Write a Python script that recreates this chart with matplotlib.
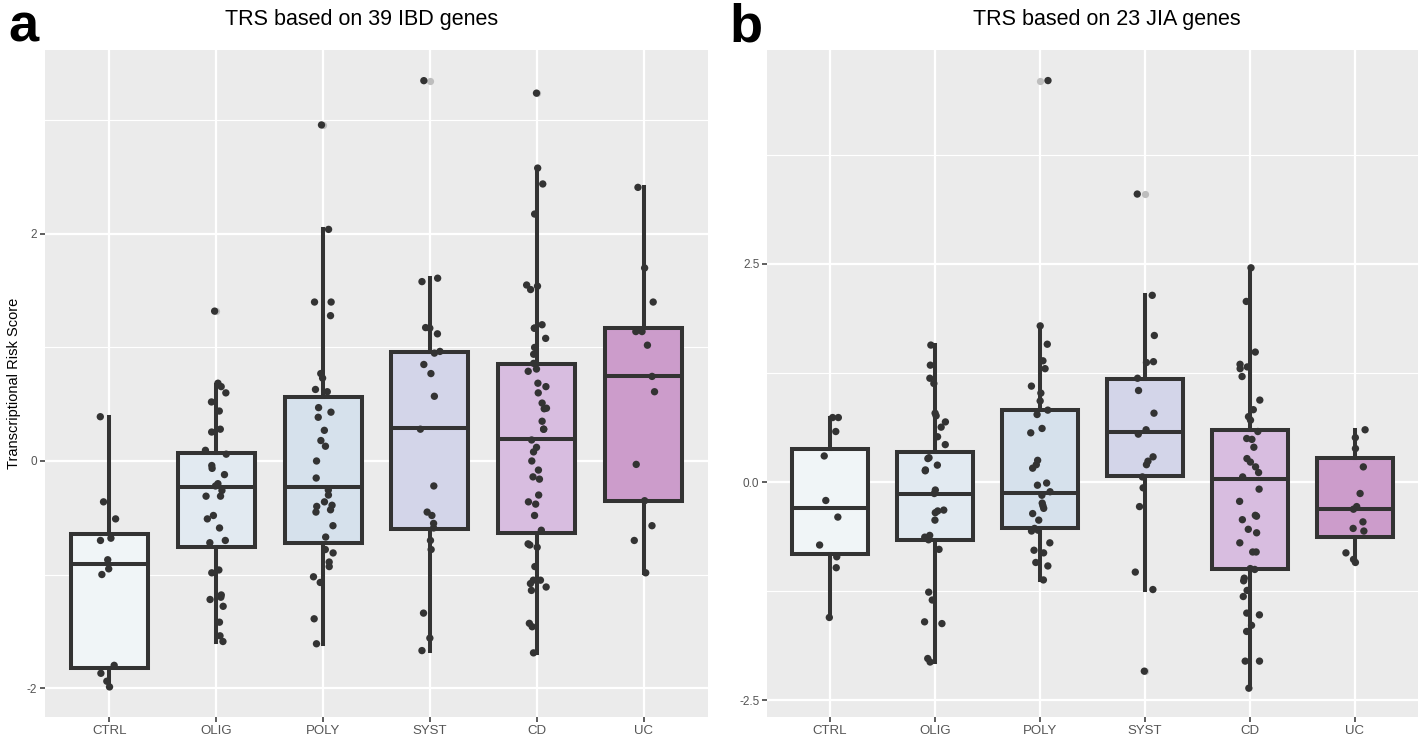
import numpy as np
import matplotlib
matplotlib.use("Agg")
import matplotlib.pyplot as plt
from matplotlib.ticker import FixedLocator

plt.rcParams['font.family'] = ['Liberation Sans', 'DejaVu Sans']

categories = ['CTRL', 'OLIG', 'POLY', 'SYST', 'CD', 'UC']
fill_colors = ['#f0f5f7', '#e2eaf1', '#d6e1ec', '#d3d5e9', '#d8bde0', '#cc9ccb']

# ---- Panel a: TRS based on 39 IBD genes ----
a_q1 = [-1.82, -0.76, -0.72, -0.60, -0.63, -0.35]
a_med = [-0.91, -0.23, -0.23, 0.29, 0.19, 0.745]
a_q3 = [-0.64, 0.07, 0.56, 0.96, 0.85, 1.175]
a_lo = [-1.99, -1.59, -1.61, -1.67, -1.69, -0.985]
a_hi = [0.39, 0.67, 2.04, 1.61, 2.58, 2.41]

a_ctrl = [0.39, -0.36, -0.51, -0.68, -0.70, -0.87, -0.95, -1.00, -1.80, -1.87, -1.94, -1.99]
a_olig = [1.32, 0.685, 0.655, 0.60, 0.52, 0.44, 0.28, 0.255, 0.094, 0.06, -0.04, -0.065,
          -0.12, -0.20, -0.22, -0.26, -0.31, -0.31, -0.48, -0.51, -0.59, -0.70, -0.72,
          -0.96, -0.985, -1.18, -1.20, -1.22, -1.28, -1.42, -1.54, -1.59]
a_poly = [2.96, 2.04, 1.40, 1.40, 1.28, 0.77, 0.73, 0.63, 0.61, 0.47, 0.43, 0.385, 0.27,
          0.18, 0.13, 0.0, -0.15, -0.256, -0.30, -0.36, -0.39, -0.40, -0.43, -0.45, -0.57,
          -0.67, -0.78, -0.81, -0.89, -0.93, -1.02, -1.07, -1.39, -1.61]
a_syst = [3.35, 1.61, 1.58, 1.175, 1.17, 1.12, 0.965, 0.95, 0.85, 0.77, 0.57, 0.28, -0.22,
          -0.45, -0.48, -0.55, -0.59, -0.70, -0.78, -1.34, -1.56, -1.67]
a_cd = [3.24, 2.58, 2.44, 2.175, 1.55, 1.54, 1.51, 1.20, 1.17, 1.17, 1.08, 1.00, 0.94, 0.86,
        0.81, 0.79, 0.685, 0.655, 0.60, 0.51, 0.465, 0.46, 0.35, 0.28, 0.28, 0.185, 0.12,
        0.08, 0.0, -0.08, -0.14, -0.16, -0.30, -0.36, -0.38, -0.48, -0.61, -0.73, -0.74,
        -0.76, -0.93, -1.05, -1.05, -1.08, -1.11, -1.14, -1.43, -1.46, -1.69]
a_uc = [2.41, 1.70, 1.40, 1.14, 1.14, 1.02, 0.745, 0.61, -0.03, -0.35, -0.57, -0.70, -0.985]

# ---- Panel b: TRS based on 23 JIA genes ----
b_q1 = [-0.825, -0.66, -0.53, 0.07, -1.00, -0.63]
b_med = [-0.30, -0.13, -0.12, 0.58, 0.04, -0.31]
b_q3 = [0.375, 0.35, 0.825, 1.18, 0.60, 0.28]
b_lo = [-1.55, -2.06, -1.12, -1.23, -2.36, -0.92]
b_hi = [0.74, 1.57, 1.79, 2.14, 2.455, 0.60]

b_ctrl = [0.74, 0.74, 0.58, 0.30, -0.21, -0.40, -0.72, -0.855, -0.98, -1.55]
b_olig = [1.57, 1.34, 1.19, 1.13, 0.79, 0.76, 0.69, 0.63, 0.52, 0.43, 0.28, 0.27, 0.195,
          0.14, 0.13, -0.09, -0.13, -0.32, -0.33, -0.35, -0.435, -0.61, -0.63, -0.66,
          -0.77, -1.26, -1.35, -1.60, -1.62, -2.02, -2.06]
b_poly = [4.60, 1.79, 1.58, 1.39, 1.30, 1.10, 1.02, 0.93, 0.825, 0.775, 0.615, 0.565, 0.25,
          0.20, 0.16, -0.01, -0.035, -0.11, -0.15, -0.24, -0.27, -0.30, -0.36, -0.435,
          -0.53, -0.55, -0.56, -0.695, -0.78, -0.81, -0.92, -0.96, -1.12]
b_syst = [3.30, 2.14, 1.68, 1.38, 1.37, 1.19, 1.05, 0.79, 0.60, 0.55, 0.29, 0.24, 0.20,
          0.06, -0.065, -0.28, -1.03, -1.23, -2.165]
b_cd = [2.455, 2.07, 1.49, 1.35, 1.32, 1.30, 1.21, 0.94, 0.83, 0.75, 0.71, 0.58, 0.50,
        0.49, 0.40, 0.27, 0.23, 0.175, 0.11, 0.06, -0.08, -0.22, -0.38, -0.39, -0.43,
        -0.54, -0.58, -0.695, -0.80, -0.80, -0.99, -1.00, -1.10, -1.13, -1.24, -1.31,
        -1.50, -1.52, -1.64, -1.71, -2.05, -2.05, -2.36]
b_uc = [0.60, 0.51, 0.385, 0.175, -0.13, -0.28, -0.31, -0.455, -0.53, -0.56, -0.81,
        -0.885, -0.92]

a_points = [a_ctrl, a_olig, a_poly, a_syst, a_cd, a_uc]
b_points = [b_ctrl, b_olig, b_poly, b_syst, b_cd, b_uc]

W, H = 1418, 737
fig = plt.figure(figsize=(W / 100, H / 100), dpi=100)

DARK = '#333333'
BG = '#ebebeb'


def panel(rect, stats, points, ylim, major, minor, ylabels, seed):
    ax = fig.add_axes(rect)
    ax.set_facecolor(BG)
    q1, med, q3, lo, hi = stats
    pos = np.arange(1, len(categories) + 1)
    bstats = []
    for i in range(len(categories)):
        pts = np.asarray(points[i])
        fl = pts[(pts > hi[i] + 0.03) | (pts < lo[i] - 0.03)]
        bstats.append(dict(q1=q1[i], med=med[i], q3=q3[i], whislo=lo[i], whishi=hi[i],
                           fliers=fl, label=categories[i]))
    bp = ax.bxp(bstats, positions=pos, widths=0.72, patch_artist=True, showcaps=False,
                boxprops=dict(edgecolor=DARK, linewidth=2.9),
                medianprops=dict(color=DARK, linewidth=2.9, solid_capstyle='butt'),
                whiskerprops=dict(color=DARK, linewidth=2.9),
                flierprops=dict(marker='o', markersize=5.2, markerfacecolor='#bdbdbd',
                                markeredgecolor='none'),
                zorder=2)
    for patch, c in zip(bp['boxes'], fill_colors):
        patch.set_facecolor(c)
        patch.set_joinstyle('miter')
    rng = np.random.default_rng(seed)
    for i, pts in enumerate(points):
        jit = rng.uniform(-0.1, 0.1, len(pts))
        ax.scatter(pos[i] + jit, pts, s=28, color=DARK, edgecolors='none', zorder=4)
    ax.set_xlim(0.4, len(categories) + 0.6)
    ax.set_ylim(*ylim)
    ax.yaxis.set_major_locator(FixedLocator(major))
    ax.yaxis.set_minor_locator(FixedLocator(minor))
    ax.set_yticklabels(ylabels)
    ax.set_xticks(pos)
    ax.set_xticklabels(categories)
    ax.grid(which='major', color='white', linewidth=1.6, zorder=0)
    ax.grid(which='minor', axis='y', color='white', linewidth=0.8, zorder=0)
    ax.set_axisbelow(True)
    for s in ax.spines.values():
        s.set_visible(False)
    ax.tick_params(axis='both', which='major', length=3.5, width=1.1, color=DARK,
                   labelcolor='#555555')
    ax.tick_params(axis='y', which='major', labelsize=8.5, pad=2)
    ax.tick_params(axis='x', which='major', labelsize=9.5, pad=2)
    ax.tick_params(axis='y', which='minor', length=0)
    return ax


ax_a = panel([45 / W, 1 - 717 / H, 663 / W, 667 / H],
             (a_q1, a_med, a_q3, a_lo, a_hi), a_points,
             (-2.255, 3.62), [-2, 0, 2], [-1, 1, 3], ['-2', '0', '2'], 3)
ax_a.set_ylabel('Transcriptional Risk Score', fontsize=10.5, color='black', labelpad=4)

ax_b = panel([767 / W, 1 - 717 / H, 651 / W, 667 / H],
             (b_q1, b_med, b_q3, b_lo, b_hi), b_points,
             (-2.69, 4.95), [-2.5, 0, 2.5], [-1.25, 1.25, 3.75], ['-2.5', '0.0', '2.5'], 7)

fig.text(362 / W, 1 - 20 / H, 'TRS based on 39 IBD genes', ha='center', va='center',
         fontsize=15.5)
fig.text(1107 / W, 1 - 20 / H, 'TRS based on 23 JIA genes', ha='center', va='center',
         fontsize=15.5)
fig.text(8 / W, 1 - 42 / H, 'a', ha='left', va='baseline', fontsize=39, fontweight='bold')
fig.text(729 / W, 1 - 42 / H, 'b', ha='left', va='baseline', fontsize=39, fontweight='bold')

fig.savefig('out.png', dpi=100, facecolor='white')
